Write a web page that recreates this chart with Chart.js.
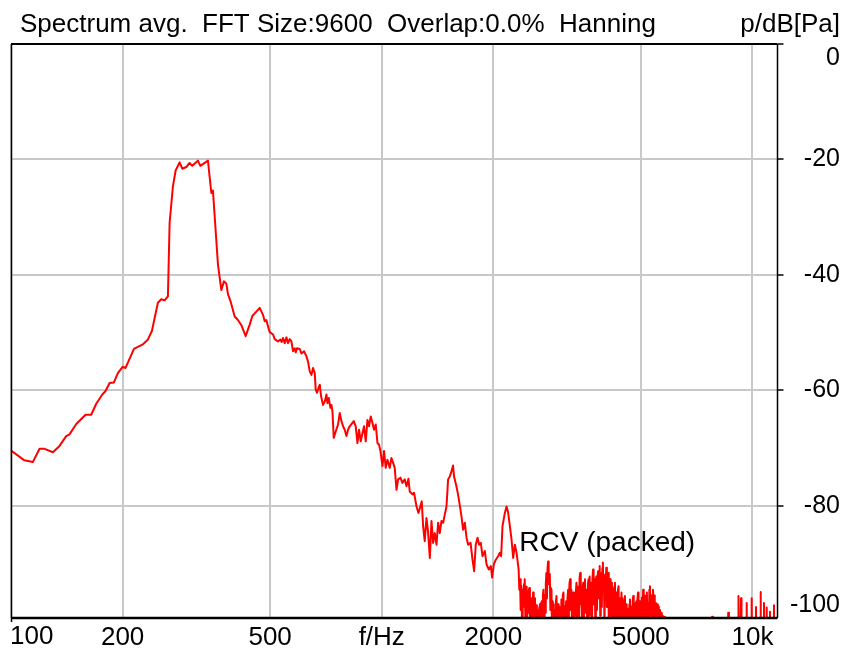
<!DOCTYPE html>
<html><head><meta charset="utf-8">
<script src="https://cdn.jsdelivr.net/npm/chart.js@4.4.1/dist/chart.umd.min.js"></script>
<style>html,body{margin:0;padding:0;background:#fff}#wrap{width:844px;height:649px;position:relative}</style>
</head><body><div id="wrap"><canvas id="c" width="844" height="649"></canvas></div>
<script>
// Low band: 100 Hz .. ~1 kHz
const lowFreqHz = [
100,108.7,114.5,119.4,123.2,129.7,135.2,140.9,143.8,150,158.9,164.6,169.8,176.3,179.9,184.5,189.5,194.2,200,203.7,
214.6,226.9,233.9,239.9,249,254.3,259.6,265,267.8,273.3,278,285,289.8,297.1,303.2,308.3,319.3,324.1,339.8,347,
350.5,361.6,369.3,375.3,380.9,384.8,391.2,401.1,409.4,418.2,429.5,440.4,447.7,455,468.6,478.3,483.4,488.5,493.4,498.7,
509,514.4,525,533,537.3,541.6,547.4,553.2,558.7,564.6,570.6,576.3,582.4,586.1,590.8,600.8,607.2,617.1,626.4,632.7,
639.4,646.2,652.6,659.6,663.7,669.1,674.9,680.5,686,694.6,702,709.3,713.9,719.6,727.1,731.7,736.2,742.2,751.4,762.2,
770.3,778.5,786.3,794.6,803.1,811.1,819.7,840.4,850.8,859.9,868.5,877.7,887,895.9,905.4,915.1,924.2,934,944,953.3,
963.5,973.7,983.3,992,1004.4,1014.4,1025,1036
];
const lowLevelDb = [
-70.4,-72.1,-72.4,-70.1,-70.1,-70.7,-69.6,-67.9,-67.6,-65.8,-64.2,-64.2,-62.3,-60.7,-60.1,-58.7,-58.6,-57.0,-55.9,-56.1,
-52.8,-52.0,-51.2,-49.7,-44.8,-44.2,-44.4,-43.7,-31.0,-24.7,-21.9,-20.5,-21.6,-21.3,-20.6,-21.1,-20.2,-21.1,-20.2,-25.8,
-25.4,-38.2,-42.6,-41.1,-41.5,-43.3,-44.6,-47.2,-47.8,-48.7,-50.6,-48.6,-47.1,-46.6,-45.7,-46.9,-48.0,-47.8,-48.9,-49.9,
-50.3,-51.1,-51.5,-51.2,-51.6,-50.9,-51.8,-50.8,-51.8,-51.1,-51.5,-53.2,-52.7,-53.4,-52.7,-52.8,-53.6,-53.2,-54.1,-55.0,
-56.7,-57.3,-56.1,-57.0,-59.9,-60.4,-59.6,-59.0,-61.0,-62.5,-61.9,-60.7,-62.2,-61.3,-63.0,-62.5,-63.6,-68.2,-67.1,-65.9,
-63.9,-65.3,-66.2,-66.8,-67.9,-66.8,-66.2,-65.3,-66.2,-69.1,-66.8,-68.8,-67.4,-66.2,-68.8,-65.1,-66.2,-64.5,-65.6,-66.8,
-65.9,-69.1,-69.4,-70.5,-73.1,-70.5,-73.4,-72.0
];
// Mid band: ~1 kHz .. 2.3 kHz
const midFreqHz = [
1050.9,1062,1073,1084,1096,1107,1123,1137,1153.5,1166,1180.5,1190,1210,1222,1241,1256,1267,1282,1293,1306,
1320,1333,1348,1362,1376,1390,1405,1419,1434,1449,1464,1479,1495,1510,1526,1542,1557,1567,1590,1606,
1623,1641,1657,1675,1693,1710,1736,1757,1775,1793,1813,1831,1850,1870,1897,1917,1945,1969,1985,2006,
2031,2060,2082,2099,2117,2148,2171,2192,2216,2239,2262,2286,2310
];
const midLevelDb = [
-73.4,-71.7,-72.5,-73.4,-77.2,-75.4,-75.1,-76.0,-75.4,-76.6,-75.3,-77.5,-78.0,-77.7,-80.1,-81.2,-80.4,-79.2,-83.5,-86.1,
-82.1,-84.4,-89.0,-82.6,-86.4,-84.7,-86.7,-82.9,-84.7,-82.6,-82.9,-81.5,-80.1,-75.4,-74.9,-74.0,-73.0,-74.9,-76.6,-78.0,
-79.8,-81.8,-84.1,-82.9,-85.5,-86.7,-86.4,-89.3,-91.3,-86.7,-85.5,-86.7,-86.4,-88.7,-87.8,-90.1,-91.0,-90.4,-92.4,-90.1,
-89.3,-88.7,-88.1,-88.7,-83.5,-81.2,-80.1,-81.1,-83.5,-85.8,-89.0,-86.7,-88.1
];
// Noise band: 2.3 kHz .. 5.75 kHz (dips below the axis are clipped)
const noiseFreqHz = [
2340,2350,2360,2370,2380,2390,2400,2410,2420,2430,
2440,2450,2460,2470,2480,2490,2500,2510,2520,2530,
2540,2550,2560,2570,2580,2590,2600,2610,2620,2630,
2640,2650,2660,2670,2680,2690,2700,2710,2720,2730,
2740,2750,2760,2770,2780,2790,2800,2810,2820,2830,
2840,2850,2860,2870,2880,2890,2900,2910,2920,2930,
2940,2950,2960,2970,2980,2990,3000,
3013,3026,3039,3052,3065,3078,3091,3104,3117,3130,
3143,3156,3169,3182,3195,3208,3221,3234,3247,3260,
3273,3286,3299,3312,3325,3338,3351,3364,3377,3390,
3403,3416,3429,3442,3455,3468,3481,3494,3507,3520,
3533,3546,3559,3572,3585,3598,3611,3624,3637,3650,
3663,3676,3689,3702,3715,3728,3741,3754,3767,3780,
3793,3806,3819,3832,3845,3858,3871,3884,3897,3910,
3923,3936,3949,3962,3975,3988,4001,
4016,4032,4048,4064,4080,4096,4112,4128,4144,4160,
4176,4192,4208,4224,4240,4256,4272,4288,4304,4320,
4336,4352,4368,4384,4400,4416,4432,4448,4464,4480,
4496,4512,4528,4544,4560,4576,4592,4608,4624,4640,
4656,4672,4688,4704,4720,4736,4752,4768,4784,4800,
4816,4832,4848,4864,4880,4896,4912,4928,4944,4960,
4976,4992,
5010,5030,5050,5070,5090,5110,5130,5150,5170,5190,
5210,5230,5250,5270,5290,5310,5330,5350,5370,5390,
5410,5430,5450,5470,5490,5510,5530,5550,5570,5590,
5610,5630,5650,5670,5690,5710,5730,5750
];
const noiseLevelDb = [
-91.0,-94.5,-92.7,-98.0,-93.8,-100.5,-94.5,-97.5,-93.5,-92.7,
-99.5,-94.0,-102,-95.0,-98.5,-94.8,-94.2,-101,-96.5,-104,
-96.0,-99.5,-95.0,-103,-96.8,-96.0,-105,-97.2,-100,-98.0,
-98.2,-106,-97.5,-97.0,-102,-96.8,-96.5,-104,-95.5,-94.5,
-100,-95.5,-98.5,-93.5,-91.6,-96,-90.8,-89.6,-93.5,-91.8,
-92.0,-98,-94.2,-94.5,-103,-96.5,-97.0,-101,-98.0,-98.5,
-105,-96.5,-95.6,-100,-97.5,-97.0,-104,
-98.5,-97.5,-103,-96.2,-100,-95.5,-95.0,-102,-97.4,-99,
-96.5,-104,-96.0,-94.5,-100,-93.5,-92.7,-98,-94.5,-101,
-95.5,-95.0,-103,-96.8,-99,-95.0,-93.3,-100,-94.0,-94.5,
-102,-92.5,-91.6,-97,-93.9,-99.5,-94.5,-93.3,-101,-93.8,
-92.7,-98.5,-95.0,-94.5,-103,-93.5,-92.7,-99,-92.2,-96.5,
-93.5,-93.3,-102,-92.5,-91.0,-97,-93.2,-92.7,-100,-93.0,
-92.2,-98,-92.5,-91.3,-96,-91.5,-90.4,-99,-92.0,-91.6,
-97.5,-90.8,-89.8,-95,-93.0,-101,-91.9,
-96,-90.7,-97.5,-92.0,-91.6,-100,-93.0,-92.7,-99,-93.3,
-102,-94.0,-94.5,-100.5,-95.0,-93.3,-103,-95.0,-95.6,-101,
-94.5,-93.9,-104,-96.0,-96.2,-101.5,-95.0,-99,-96.0,-96.8,
-105,-96.5,-95.6,-102,-97.0,-97.4,-104,-97.8,-98.2,-101,
-97.0,-96.2,-103,-97.5,-97.4,-100,-96.5,-95.6,-104,-97.0,
-97.4,-101,-96.8,-96.5,-99.5,-96.0,-95.0,-102,-96.5,-97.1,
-100,-96.5,
-103,-95.9,-99,-94.5,-101,-95.5,-96.5,-103,-95.5,-95.0,
-100,-96.8,-104,-94.5,-93.9,-99,-95.5,-95.9,-102,-94.5,
-97,-95.5,-96.5,-103,-96.8,-97.1,-101,-97.0,-97.4,-104,
-98.0,-98.2,-102,-98.5,-98.8,-105,-99.0,-101
];
// High band: 5.8 kHz .. 11.7 kHz (isolated spikes above the floor)
const tailFreqHz = [
5800,5830,5900,6100,6400,6700,7000,7400,7700,7778,7820,8200,8560,8600,8640,9000,9140,9167,9200,9280,
9311,9340,9620,9646,9670,9930,9950,9975,10195,10219,10245,10485,10510,10540,10715,10740,10765,10900,10922,10945,
11120,11148,11175,11400,11428,11455,11680
];
const tailLevelDb = [
-99.2,-106,-104,-108,-106,-109,-107,-110,-106,-99.2,-107,-108,-106,-98.5,-106,-108,-106,-95.6,-106,-106,
-96.0,-106,-106,-96.8,-106,-106,-96.0,-106,-106,-97.5,-106,-106,-94.9,-106,-106,-96.8,-106,-106,-97.6,-106,
-106,-98.3,-106,-106,-97.2,-106,-106
];

const xTickValues = [100,200,500,1000,2000,5000,10000];
const xTickLabels = ['100','200','500','f/Hz','2000','5000','10k'];
const yTickValues = [0,-20,-40,-60,-80];
const yLabelValues = [0,-20,-40,-60,-80,-100];
const yLabelTexts = ['0','-20','-40','-60','-80','-100'];
const titleText = 'Spectrum avg.  FFT Size:9600  Overlap:0.0%  Hanning';
const unitText = 'p/dB[Pa]';
const seriesLabel = 'RCV (packed)';
const seriesLabelAnchor = [2350, -86.5];

const FONT = "'Liberation Sans', Arial, sans-serif";
const allFreq = [].concat(lowFreqHz, midFreqHz, noiseFreqHz, tailFreqHz);
const allDb = [].concat(lowLevelDb, midLevelDb, noiseLevelDb, tailLevelDb);
const points = allFreq.map((f, i) => ({x: f, y: allDb[i]}));

const overlay = {
  id: 'overlay',
  afterDraw(chart) {
    const {ctx, chartArea: a, scales: {x, y}} = chart;
    ctx.save();
    ctx.strokeStyle = '#000';
    ctx.lineWidth = 1.5;
    ctx.beginPath(); ctx.moveTo(a.left + 0.5, a.top); ctx.lineTo(a.left + 0.5, a.bottom + 4); ctx.stroke();
    ctx.beginPath(); ctx.moveTo(a.right, a.top); ctx.lineTo(a.right, a.bottom); ctx.stroke();
    ctx.lineWidth = 2;
    ctx.beginPath(); ctx.moveTo(a.left, a.top); ctx.lineTo(a.right, a.top); ctx.stroke();
    ctx.lineWidth = 2.5;
    ctx.beginPath(); ctx.moveTo(a.left, a.bottom); ctx.lineTo(a.right, a.bottom); ctx.stroke();

    ctx.fillStyle = '#000';
    ctx.font = '26px ' + FONT;
    ctx.textBaseline = 'alphabetic';
    ctx.textAlign = 'left';
    ctx.fillText(titleText, 20, 32);
    ctx.textAlign = 'right';
    ctx.fillText(unitText, 840, 32);

    ctx.font = '25px ' + FONT;
    ctx.textAlign = 'right';
    ctx.textBaseline = 'middle';
    yLabelValues.forEach((v, i) => {
      let py = y.getPixelForValue(v);
      if (v === 0) py = a.top + 14;
      if (v === -100) py = a.bottom - 13;
      ctx.fillText(yLabelTexts[i], 840, py);
    });
    ctx.font = '26px ' + FONT;
    ctx.textAlign = 'left';
    ctx.fillText(xTickLabels[0], a.left - 1, 637);

    ctx.font = '28px ' + FONT;
    ctx.textAlign = 'left';
    ctx.fillText(seriesLabel, x.getPixelForValue(seriesLabelAnchor[0]), y.getPixelForValue(seriesLabelAnchor[1]));
    ctx.restore();
  }
};

new Chart(document.getElementById('c'), {
  type: 'line',
  data: { datasets: [{ data: points, borderColor: '#ff0000', borderWidth: 2, pointRadius: 0, tension: 0, borderJoinStyle: 'round', fill: false }] },
  options: {
    responsive: false, animation: false, devicePixelRatio: 1,
    layout: { padding: { left: 11, top: 44, right: 4, bottom: 0 } },
    plugins: { legend: { display: false }, tooltip: { enabled: false }, title: { display: false } },
    scales: {
      x: {
        type: 'logarithmic', min: 100, max: 11680,
        afterBuildTicks: s => { s.ticks = xTickValues.map(v => ({value: v})); },
        afterFit: s => { s.height = 31; },
        grid: { color: '#c8c8c8', lineWidth: 2, drawTicks: false },
        border: { display: false },
        ticks: { color: '#000', font: { family: FONT, size: 26 }, padding: 4, maxRotation: 0, autoSkip: false,
          callback: (v, i) => i === 0 ? '' : xTickLabels[i] }
      },
      y: {
        position: 'right', min: -99.4, max: 0,
        afterBuildTicks: s => { s.ticks = yTickValues.map(v => ({value: v})); },
        afterFit: s => { s.width = 62.5; },
        grid: { color: '#c8c8c8', lineWidth: 2, drawTicks: true, tickLength: 6, tickColor: '#000', tickWidth: 1.5 },
        border: { display: false },
        ticks: { display: false }
      }
    }
  },
  plugins: [overlay]
});
</script>
</body></html>
